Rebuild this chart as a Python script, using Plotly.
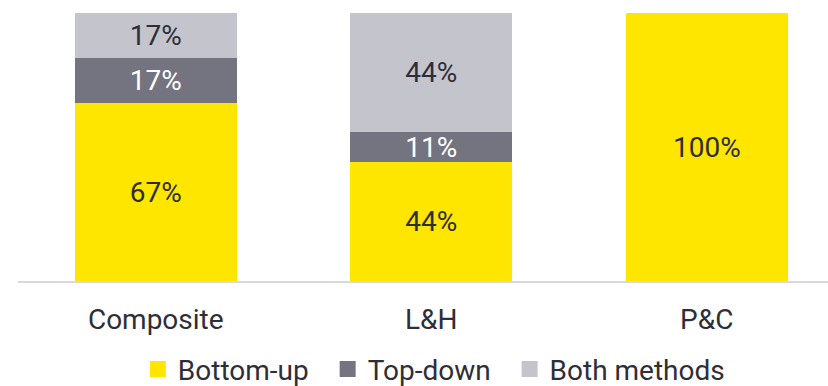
import plotly.graph_objects as go

# Share of respondents by approach, per business line
categories = ["Composite", "L&H", "P&C"]
bottom_up = [67, 44, 100]
top_down = [17, 11, 0]
both_methods = [17, 44, 0]

series_names = ["Bottom-up", "Top-down", "Both methods"]
series_values = [bottom_up, top_down, both_methods]
series_colors = ["#FFE600", "#747480", "#C4C4CD"]
label_colors = ["#2E2E38", "#FFFFFF", "#2E2E38"]

FONT = "Roboto"
SIZE = 28
TEXT = "#2E2E38"
PAD = "\u00a0\u00a0"  # extra room between legend entries

fig = go.Figure()
for name, vals, color, lc in zip(series_names, series_values, series_colors, label_colors):
    fig.add_trace(go.Bar(
        name=name,
        x=categories,
        y=vals,
        marker=dict(color=color, line=dict(width=0)),
        text=[f"{v}%" if v else "" for v in vals],
        textposition="inside",
        insidetextanchor="middle",
        textfont=dict(family=FONT, size=SIZE, color=lc),
        hoverinfo="skip",
        showlegend=False,
    ))

# Legend keys drawn as larger square markers
for i, (name, color) in enumerate(zip(series_names, series_colors)):
    label = name + (PAD if i < len(series_names) - 1 else "")
    fig.add_trace(go.Scatter(
        name=label,
        x=[None],
        y=[None],
        mode="markers",
        marker=dict(symbol="square", size=16, color=color, line=dict(width=0)),
        hoverinfo="skip",
        showlegend=True,
    ))

fig.update_layout(
    barmode="stack",
    barnorm="percent",
    bargap=0.412,
    width=828,
    height=386,
    margin=dict(l=18, r=0, t=13, b=105),
    paper_bgcolor="white",
    plot_bgcolor="white",
    font=dict(family=FONT, size=SIZE, color=TEXT),
    uniformtext=dict(minsize=SIZE, mode="show"),
    showlegend=True,
    legend=dict(
        orientation="h",
        xref="container",
        yref="container",
        x=0.524,
        xanchor="center",
        y=0.043,
        yanchor="middle",
        font=dict(family=FONT, size=SIZE, color=TEXT),
        traceorder="normal",
        itemclick=False,
        itemsizing="trace",
    ),
    xaxis=dict(
        range=[-0.5, 2.44],
        showline=True,
        linecolor="#D9D9D9",
        linewidth=2,
        showgrid=False,
        zeroline=False,
        ticks="",
        ticklabelstandoff=12,
        tickfont=dict(family=FONT, size=SIZE, color=TEXT),
        fixedrange=True,
    ),
    yaxis=dict(
        range=[0, 100],
        visible=False,
        showgrid=False,
        zeroline=False,
        fixedrange=True,
    ),
)

fig.write_html("out.html", config={"displayModeBar": False})
